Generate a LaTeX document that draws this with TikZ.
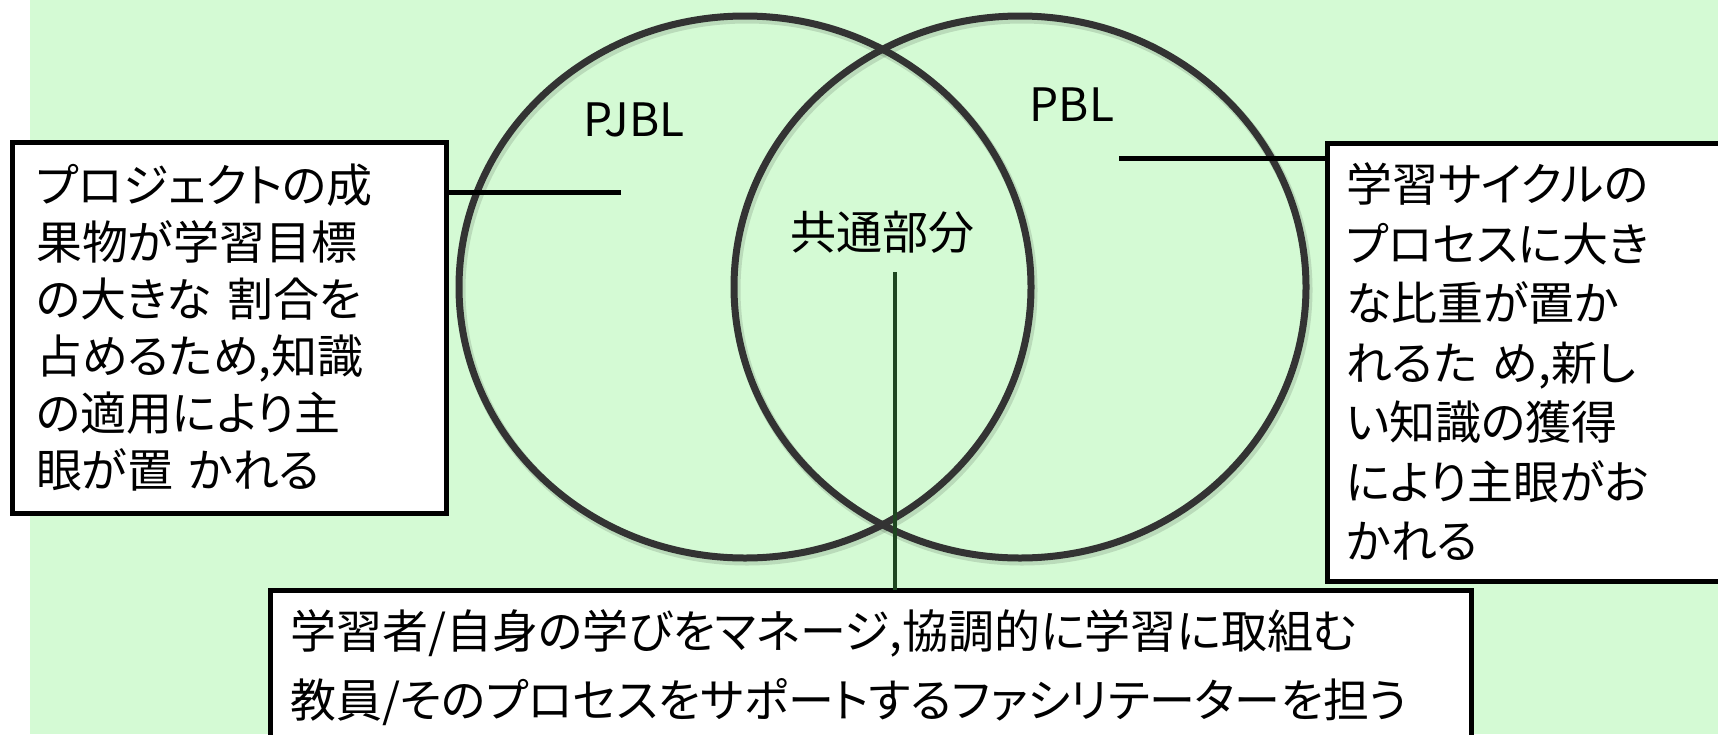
\documentclass[tikz,border=0pt]{standalone}
\usepackage{fontspec}
\newfontfamily\jp[RawFeature=+palt]{Noto Sans CJK JP}
\usetikzlibrary{shapes.geometric}
\definecolor{bg}{RGB}{212,250,212}
\definecolor{ring}{RGB}{51,51,51}
\definecolor{stem}{RGB}{30,70,32}
\tikzset{
  venn/.style={ellipse, draw=ring, line width=7pt, minimum width=572pt, minimum height=542pt, inner sep=0pt, outer sep=0pt},
  vshadow/.style={ellipse, draw=black, draw opacity=0.12, line width=9pt, minimum width=572pt, minimum height=542pt, inner sep=0pt},
  box/.style={draw=black, line width=5pt, fill=white, align=left, anchor=north west, outer sep=0pt, inner ysep=0pt},
  lbl/.style={inner sep=0pt},
  conn/.style={draw=black, line width=5pt},
  stemline/.style={draw=stem, line width=3.5pt}
}
\begin{document}
\begin{tikzpicture}[x=1pt,y=-1pt, font=\jp\fontsize{46}{57}\selectfont]
\useasboundingbox (0,0) rectangle (1718,734);
\fill[white] (0,0) rectangle (1718,734);
\fill[bg] (30,0) rectangle (1718,734);
% shadows and circles
\node[vshadow] (shl) at (747,290) {};
\node[vshadow] (shr) at (1022,290) {};
\node[venn] (cl) at (745,287) {};
\node[venn] (cr) at (1020,287) {};
% labels
\node[lbl] (pjbl) at (634,120) {PJBL};
\node[lbl] (pbl) at (1072,105) {PBL};
\node[lbl] (common) at (882,232) {共通部分};
% boxes
\node[box, minimum width=434pt, minimum height=371pt, inner xsep=24pt, text width=386pt,
      font=\jp\fontsize{46}{57}\selectfont] (lbox) at (12,142)
  {プロジェクトの成\\果物が学習目標\\の大きな 割合を\\占めるため,知識\\の適用により主\\眼が置 かれる};
\node[box, minimum width=420pt, minimum height=438pt, inner xsep=19pt, text width=382pt,
      font=\jp\fontsize{46}{59.5}\selectfont] (rbox) at (1327,143)
  {学習サイクルの\\プロセスに大き\\な比重が置か\\れるた め,新し\\い知識の獲得\\により主眼がお\\かれる};
\node[box, minimum width=1201pt, minimum height=155pt, inner xsep=20pt, text width=1161pt,
      font=\jp\fontsize{46}{69}\selectfont] (bbox) at (270,590)
  {学習者/自身の学びをマネージ,協調的に学習に取組む\\教員/そのプロセスをサポートするファシリテーターを担う};
% connectors
\coordinate (lend) at (621,192);
\coordinate (rend) at (1119,158);
\coordinate (cend) at (895,272);
\draw[conn] (lend) -- (lend -| lbox.east);
\draw[conn] (rend) -- (rend -| rbox.west);
\draw[stemline] (cend) -- (cend |- bbox.north);
\end{tikzpicture}
\end{document}
